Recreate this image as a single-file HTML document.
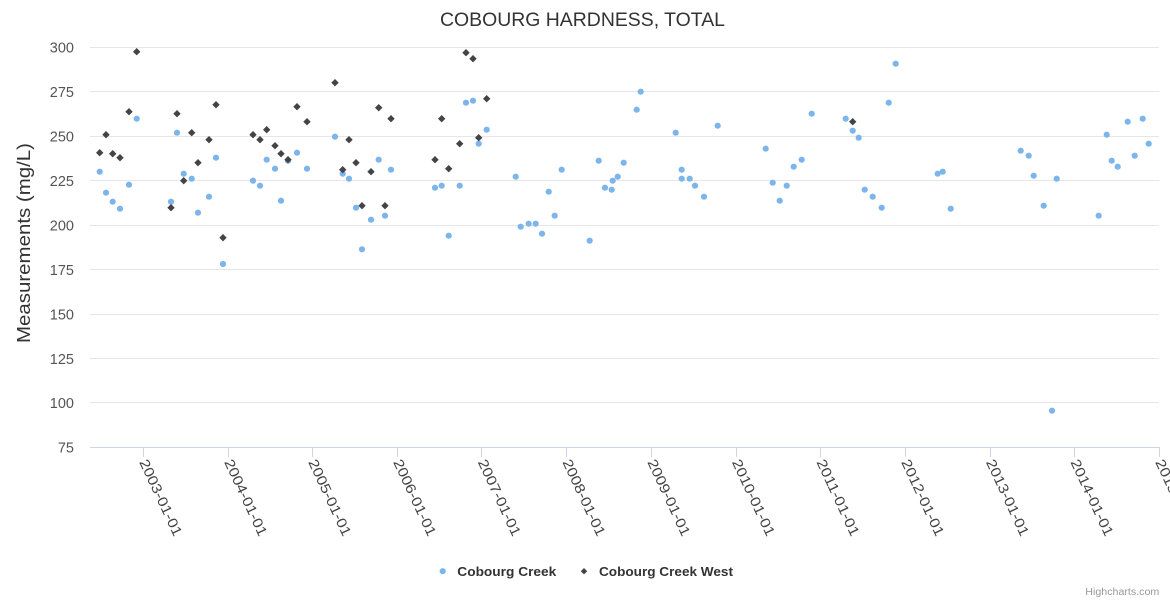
<!DOCTYPE html>
<html>
<head>
<meta charset="utf-8">
<style>
html,body{margin:0;padding:0;background:#fff;}
svg{display:block;}
text{font-family:"Liberation Sans",Arial,sans-serif;}
</style>
</head>
<body>
<svg width="1170" height="600" viewBox="0 0 1170 600" xmlns="http://www.w3.org/2000/svg">
<defs>
<path id="dm" d="M0 -3.7 L3.7 0 L0 3.7 L-3.7 0 Z" fill="#434348"/>
</defs>
<rect x="0" y="0" width="1170" height="600" fill="#fff"/>
<text x="440" y="26" font-size="19" fill="#333333" textLength="285" lengthAdjust="spacingAndGlyphs">COBOURG HARDNESS, TOTAL</text>
<g stroke="#e6e6e6" stroke-width="1">
<line x1="90" x2="1159" y1="47.5" y2="47.5"/>
<line x1="90" x2="1159" y1="91.5" y2="91.5"/>
<line x1="90" x2="1159" y1="136.5" y2="136.5"/>
<line x1="90" x2="1159" y1="180.5" y2="180.5"/>
<line x1="90" x2="1159" y1="225.5" y2="225.5"/>
<line x1="90" x2="1159" y1="269.5" y2="269.5"/>
<line x1="90" x2="1159" y1="314.5" y2="314.5"/>
<line x1="90" x2="1159" y1="358.5" y2="358.5"/>
<line x1="90" x2="1159" y1="402.5" y2="402.5"/>
</g>
<line x1="90" x2="1159.5" y1="447.5" y2="447.5" stroke="#ccd6eb" stroke-width="1"/>
<g stroke="#ccd6eb" stroke-width="1">
<line x1="143.5" x2="143.5" y1="447" y2="457"/>
<line x1="228.5" x2="228.5" y1="447" y2="457"/>
<line x1="312.5" x2="312.5" y1="447" y2="457"/>
<line x1="397.5" x2="397.5" y1="447" y2="457"/>
<line x1="481.5" x2="481.5" y1="447" y2="457"/>
<line x1="566.5" x2="566.5" y1="447" y2="457"/>
<line x1="651.5" x2="651.5" y1="447" y2="457"/>
<line x1="736.5" x2="736.5" y1="447" y2="457"/>
<line x1="820.5" x2="820.5" y1="447" y2="457"/>
<line x1="905.5" x2="905.5" y1="447" y2="457"/>
<line x1="990.5" x2="990.5" y1="447" y2="457"/>
<line x1="1074.5" x2="1074.5" y1="447" y2="457"/>
<line x1="1159.5" x2="1159.5" y1="447" y2="457"/>
</g>
<g font-size="14.5" fill="#555" text-anchor="end">
<text x="74" y="52.7">300</text>
<text x="74" y="97">275</text>
<text x="74" y="141.5">250</text>
<text x="74" y="186">225</text>
<text x="74" y="230.4">200</text>
<text x="74" y="274.9">175</text>
<text x="74" y="319.3">150</text>
<text x="74" y="363.8">125</text>
<text x="74" y="408.2">100</text>
<text x="74" y="452.7">75</text>
</g>
<text transform="translate(30,243) rotate(-90)" x="-100" y="0" font-size="18" fill="#333" textLength="200" lengthAdjust="spacingAndGlyphs">Measurements (mg/L)</text>
<g font-size="14" fill="#444">
<text transform="translate(139,462) rotate(65)" textLength="83" lengthAdjust="spacingAndGlyphs">2003-01-01</text>
<text transform="translate(224,462) rotate(65)" textLength="83" lengthAdjust="spacingAndGlyphs">2004-01-01</text>
<text transform="translate(308,462) rotate(65)" textLength="83" lengthAdjust="spacingAndGlyphs">2005-01-01</text>
<text transform="translate(393,462) rotate(65)" textLength="83" lengthAdjust="spacingAndGlyphs">2006-01-01</text>
<text transform="translate(477.6,462) rotate(65)" textLength="83" lengthAdjust="spacingAndGlyphs">2007-01-01</text>
<text transform="translate(562.2,462) rotate(65)" textLength="83" lengthAdjust="spacingAndGlyphs">2008-01-01</text>
<text transform="translate(647.1,462) rotate(65)" textLength="83" lengthAdjust="spacingAndGlyphs">2009-01-01</text>
<text transform="translate(731.7,462) rotate(65)" textLength="83" lengthAdjust="spacingAndGlyphs">2010-01-01</text>
<text transform="translate(816.2,462) rotate(65)" textLength="83" lengthAdjust="spacingAndGlyphs">2011-01-01</text>
<text transform="translate(901,462) rotate(65)" textLength="83" lengthAdjust="spacingAndGlyphs">2012-01-01</text>
<text transform="translate(985.8,462) rotate(65)" textLength="83" lengthAdjust="spacingAndGlyphs">2013-01-01</text>
<text transform="translate(1070.2,462) rotate(65)" textLength="83" lengthAdjust="spacingAndGlyphs">2014-01-01</text>
<text transform="translate(1155,462) rotate(65)" textLength="83" lengthAdjust="spacingAndGlyphs">2015-01-01</text>
</g>
<g fill="#7cb5ec">
<circle cx="99.7" cy="171.7" r="3.1"/>
<circle cx="106" cy="192.7" r="3.1"/>
<circle cx="112.7" cy="201.7" r="3.1"/>
<circle cx="120" cy="208.7" r="3.1"/>
<circle cx="129" cy="184.7" r="3.1"/>
<circle cx="136.7" cy="118.7" r="3.1"/>
<circle cx="171" cy="201.7" r="3.1"/>
<circle cx="177" cy="132.7" r="3.1"/>
<circle cx="183.7" cy="173.7" r="3.1"/>
<circle cx="191.7" cy="178.7" r="3.1"/>
<circle cx="198" cy="212.7" r="3.1"/>
<circle cx="209" cy="196.7" r="3.1"/>
<circle cx="216" cy="157.7" r="3.1"/>
<circle cx="223" cy="264" r="3.1"/>
<circle cx="253" cy="180.7" r="3.1"/>
<circle cx="260" cy="185.7" r="3.1"/>
<circle cx="266.7" cy="159.7" r="3.1"/>
<circle cx="275" cy="168.7" r="3.1"/>
<circle cx="281" cy="200.7" r="3.1"/>
<circle cx="288" cy="160.7" r="3.1"/>
<circle cx="297" cy="152.7" r="3.1"/>
<circle cx="307" cy="168.7" r="3.1"/>
<circle cx="335" cy="136.7" r="3.1"/>
<circle cx="342.7" cy="173.7" r="3.1"/>
<circle cx="349" cy="178.7" r="3.1"/>
<circle cx="356" cy="207.7" r="3.1"/>
<circle cx="362" cy="249.3" r="3.1"/>
<circle cx="371" cy="219.7" r="3.1"/>
<circle cx="378.7" cy="159.7" r="3.1"/>
<circle cx="385" cy="215.7" r="3.1"/>
<circle cx="391" cy="169.7" r="3.1"/>
<circle cx="435" cy="187.7" r="3.1"/>
<circle cx="441.7" cy="185.7" r="3.1"/>
<circle cx="448.7" cy="235.7" r="3.1"/>
<circle cx="459.7" cy="185.7" r="3.1"/>
<circle cx="466" cy="102.7" r="3.1"/>
<circle cx="473" cy="100.7" r="3.1"/>
<circle cx="478.7" cy="143.7" r="3.1"/>
<circle cx="486.7" cy="129.7" r="3.1"/>
<circle cx="515.7" cy="176.7" r="3.1"/>
<circle cx="520.7" cy="226.7" r="3.1"/>
<circle cx="528.7" cy="223.7" r="3.1"/>
<circle cx="535.7" cy="223.7" r="3.1"/>
<circle cx="542" cy="233.7" r="3.1"/>
<circle cx="548.7" cy="191.7" r="3.1"/>
<circle cx="554.7" cy="215.7" r="3.1"/>
<circle cx="561.7" cy="169.7" r="3.1"/>
<circle cx="589.7" cy="240.7" r="3.1"/>
<circle cx="598.7" cy="160.7" r="3.1"/>
<circle cx="605" cy="187.7" r="3.1"/>
<circle cx="611.7" cy="189.7" r="3.1"/>
<circle cx="612.7" cy="180.7" r="3.1"/>
<circle cx="617.7" cy="176.7" r="3.1"/>
<circle cx="623.7" cy="162.7" r="3.1"/>
<circle cx="636.7" cy="109.7" r="3.1"/>
<circle cx="640.7" cy="91.7" r="3.1"/>
<circle cx="675.7" cy="132.7" r="3.1"/>
<circle cx="681.7" cy="169.7" r="3.1"/>
<circle cx="681.7" cy="178.7" r="3.1"/>
<circle cx="689.7" cy="178.7" r="3.1"/>
<circle cx="695" cy="185.7" r="3.1"/>
<circle cx="704" cy="196.7" r="3.1"/>
<circle cx="717.7" cy="125.7" r="3.1"/>
<circle cx="765.7" cy="148.7" r="3.1"/>
<circle cx="772.7" cy="182.7" r="3.1"/>
<circle cx="779.7" cy="200.7" r="3.1"/>
<circle cx="786.7" cy="185.7" r="3.1"/>
<circle cx="793.7" cy="166.7" r="3.1"/>
<circle cx="801.7" cy="159.7" r="3.1"/>
<circle cx="811.7" cy="113.7" r="3.1"/>
<circle cx="845.7" cy="118.7" r="3.1"/>
<circle cx="852.7" cy="130.7" r="3.1"/>
<circle cx="858.7" cy="137.7" r="3.1"/>
<circle cx="864.7" cy="189.7" r="3.1"/>
<circle cx="872.7" cy="196.7" r="3.1"/>
<circle cx="881.7" cy="207.7" r="3.1"/>
<circle cx="888.7" cy="102.7" r="3.1"/>
<circle cx="895.7" cy="63.7" r="3.1"/>
<circle cx="937.7" cy="173.7" r="3.1"/>
<circle cx="942.7" cy="171.7" r="3.1"/>
<circle cx="950.7" cy="208.7" r="3.1"/>
<circle cx="1020.7" cy="150.7" r="3.1"/>
<circle cx="1028.7" cy="155.7" r="3.1"/>
<circle cx="1033.7" cy="175.7" r="3.1"/>
<circle cx="1043.7" cy="205.7" r="3.1"/>
<circle cx="1052" cy="410.7" r="3.1"/>
<circle cx="1056.7" cy="178.7" r="3.1"/>
<circle cx="1098.7" cy="215.7" r="3.1"/>
<circle cx="1106.7" cy="134.7" r="3.1"/>
<circle cx="1111.7" cy="160.7" r="3.1"/>
<circle cx="1117.7" cy="166.7" r="3.1"/>
<circle cx="1127.7" cy="121.7" r="3.1"/>
<circle cx="1134.7" cy="155.7" r="3.1"/>
<circle cx="1142.7" cy="118.7" r="3.1"/>
<circle cx="1148.7" cy="143.7" r="3.1"/>
</g>
<g>
<use href="#dm" x="99.7" y="152.7"/>
<use href="#dm" x="106" y="134.7"/>
<use href="#dm" x="112.7" y="153.7"/>
<use href="#dm" x="120" y="157.7"/>
<use href="#dm" x="129" y="111.7"/>
<use href="#dm" x="136.7" y="51.7"/>
<use href="#dm" x="171" y="207.7"/>
<use href="#dm" x="177" y="113.7"/>
<use href="#dm" x="183.7" y="180.7"/>
<use href="#dm" x="191.7" y="132.7"/>
<use href="#dm" x="198" y="162.7"/>
<use href="#dm" x="209" y="139.7"/>
<use href="#dm" x="216" y="104.7"/>
<use href="#dm" x="223" y="237.7"/>
<use href="#dm" x="253" y="134.7"/>
<use href="#dm" x="260" y="139.7"/>
<use href="#dm" x="266.7" y="129.7"/>
<use href="#dm" x="275" y="145.7"/>
<use href="#dm" x="281" y="153.7"/>
<use href="#dm" x="288" y="159.7"/>
<use href="#dm" x="297" y="106.7"/>
<use href="#dm" x="307" y="121.7"/>
<use href="#dm" x="335" y="82.7"/>
<use href="#dm" x="342.7" y="169.7"/>
<use href="#dm" x="349" y="139.7"/>
<use href="#dm" x="356" y="162.7"/>
<use href="#dm" x="362" y="205.7"/>
<use href="#dm" x="371" y="171.7"/>
<use href="#dm" x="378.7" y="107.7"/>
<use href="#dm" x="385" y="205.7"/>
<use href="#dm" x="391" y="118.7"/>
<use href="#dm" x="435" y="159.7"/>
<use href="#dm" x="441.7" y="118.7"/>
<use href="#dm" x="448.7" y="168.7"/>
<use href="#dm" x="459.7" y="143.7"/>
<use href="#dm" x="466" y="52.7"/>
<use href="#dm" x="473" y="58.7"/>
<use href="#dm" x="478.7" y="137.7"/>
<use href="#dm" x="486.7" y="98.7"/>
<use href="#dm" x="852.7" y="121.7"/>
</g>
<circle cx="442.7" cy="571.2" r="3.1" fill="#7cb5ec"/>
<text x="457.3" y="575.8" font-size="12.5" font-weight="bold" fill="#333333" textLength="99" lengthAdjust="spacingAndGlyphs">Cobourg Creek</text>
<path d="M584 568 L587.2 571.2 L584 574.4 L580.8 571.2 Z" fill="#434348"/>
<text x="599" y="575.8" font-size="12.5" font-weight="bold" fill="#333333" textLength="134" lengthAdjust="spacingAndGlyphs">Cobourg Creek West</text>
<text x="1159.3" y="595" font-size="10" fill="#999999" text-anchor="end" textLength="74" lengthAdjust="spacingAndGlyphs">Highcharts.com</text>
</svg>
</body>
</html>
